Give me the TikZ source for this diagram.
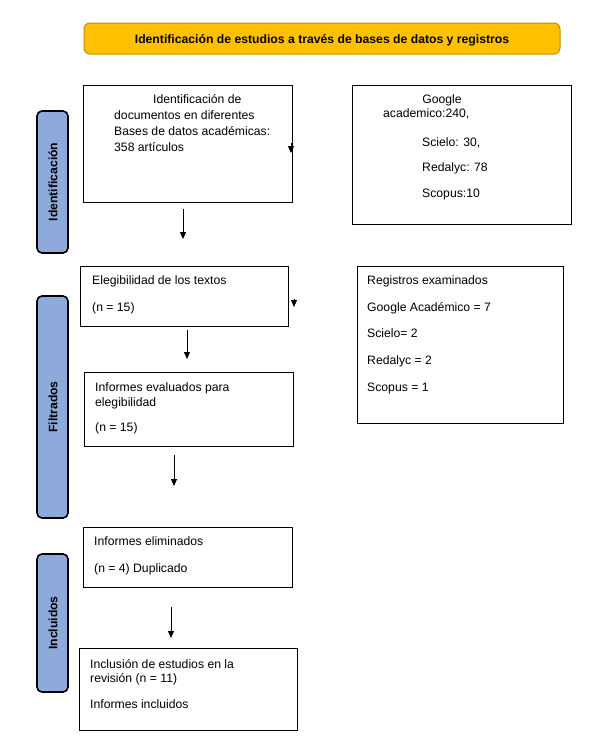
\documentclass[tikz,border=0pt]{standalone}
\usepackage{fontspec}
\setmainfont{Liberation Sans}
\usetikzlibrary{arrows.meta}
\definecolor{bannerfill}{HTML}{FFC000}
\definecolor{bannerdraw}{HTML}{BF9000}
\definecolor{sidefill}{HTML}{8EAADB}
\tikzset{
  x=1pt, y=-1pt,
  boxst/.style={draw=black, line width=0.9pt, fill=white},
  sidest/.style={draw=black, line width=1.6pt, fill=sidefill, rounded corners=5pt},
  bannerst/.style={draw=bannerdraw, line width=1pt, fill=bannerfill, rounded corners=6pt},
  txt/.style={inner sep=0pt, font=\fontsize{12.2}{15}\selectfont, anchor=base west},
  btxt/.style={inner sep=0pt, font=\fontsize{12.2}{15}\selectfont\bfseries},
  arr/.style={line width=0.9pt, -{Triangle[width=6pt,length=7pt]}},
}
\begin{document}
\begin{tikzpicture}
\useasboundingbox (0,0) rectangle (595,742);
\fill[white] (0,0) rectangle (595,742);

% banner
\draw[bannerst] (84,23) rectangle (560,54);
\node[btxt, anchor=base] (bannertxt) at (322,43) {Identificación de estudios a través de bases de datos y registros};

% side labels
\draw[sidest] (37,111) rectangle (68,253);
\node[btxt, rotate=90] (sideA) at (53,182) {Identificación};
\draw[sidest] (37,296) rectangle (68,518);
\node[btxt, rotate=90] (sideB) at (53,407) {Filtrados};
\draw[sidest] (37,554) rectangle (68,692);
\node[btxt, rotate=90] (sideC) at (53,623) {Incluidos};

% box 1
\draw[boxst] (83,85) rectangle (292,202);
\node[txt] (b1a) at (153,103) {Identificación de};
\node[txt] (b1b) at (114,119) {documentos en diferentes};
\node[txt] (b1c) at (114,135) {Bases de datos académicas:};
\node[txt] (b1d) at (114,151) {358 artículos};

% box 2
\draw[boxst] (352,85) rectangle (571,224);
\node[txt, anchor=base] (b2a) at (442,103) {Google};
\node[txt] (b2b) at (383,117) {academico:240,};
\node[txt] (b2c) at (422,146) {Scielo: 30,};
\node[txt] (b2d) at (422,171) {Redalyc: 78};
\node[txt] (b2e) at (422,197) {Scopus:10};

% box 3
\draw[boxst] (80,266) rectangle (288,326);
\node[txt] (b3a) at (92,284) {Elegibilidad de los textos};
\node[txt] (b3b) at (92,311) {(n = 15)};

% box 4
\draw[boxst] (84,372) rectangle (293,446);
\node[txt] (b4a) at (95,391) {Informes evaluados para};
\node[txt] (b4b) at (95,406) {elegibilidad};
\node[txt] (b4c) at (95,431) {(n = 15)};

% box 5
\draw[boxst] (357,266) rectangle (563,423);
\node[txt] (b5a) at (367,284) {Registros examinados};
\node[txt] (b5b) at (367,311) {Google Académico = 7};
\node[txt] (b5c) at (367,337) {Scielo= 2};
\node[txt] (b5d) at (367,364) {Redalyc = 2};
\node[txt] (b5e) at (367,391) {Scopus = 1};

% box 6
\draw[boxst] (83,527) rectangle (292,587);
\node[txt] (b6a) at (94,545) {Informes eliminados};
\node[txt] (b6b) at (94,572) {(n = 4) Duplicado};

% box 7
\draw[boxst] (79,648) rectangle (297,730);
\node[txt] (b7a) at (90,668) {Inclusión de estudios en la};
\node[txt] (b7b) at (90,682) {revisión (n = 11)};
\node[txt] (b7c) at (90,708) {Informes incluidos};

% arrows
\coordinate (a1s) at (183,209); \coordinate (a1e) at (183,239);
\coordinate (a2s) at (187,330); \coordinate (a2e) at (187,359);
\coordinate (a3s) at (174,455); \coordinate (a3e) at (174,486);
\coordinate (a4s) at (171,607); \coordinate (a4e) at (171,638);
\coordinate (s1s) at (291,143); \coordinate (s1e) at (291,153);
\coordinate (s2s) at (294,299); \coordinate (s2e) at (294,307);
\draw[arr] (a1s) -- (a1e);
\draw[arr] (a2s) -- (a2e);
\draw[arr] (a3s) -- (a3e);
\draw[arr] (a4s) -- (a4e);
\draw[arr] (s1s) -- (s1e);
\draw[arr, shorten <=0pt] (s2s) -- (s2e);
\end{tikzpicture}
\end{document}
